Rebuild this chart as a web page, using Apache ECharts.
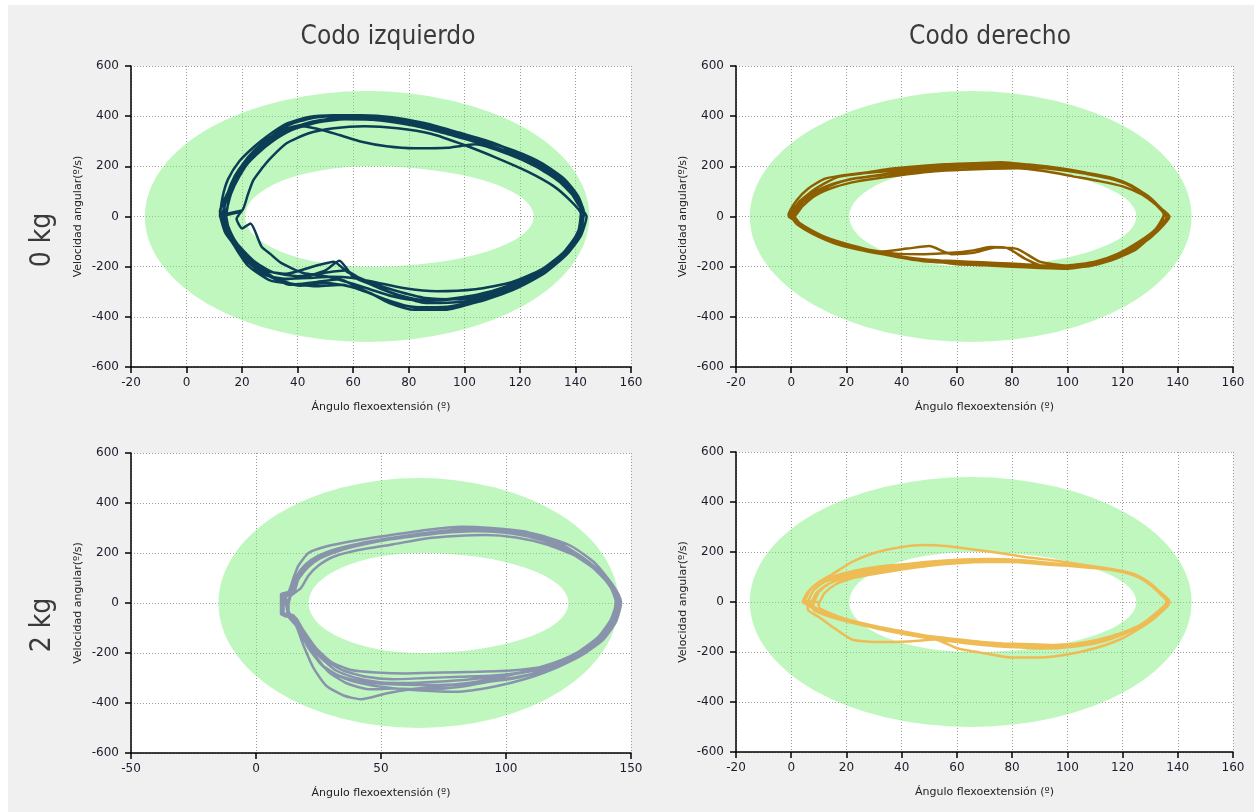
<!DOCTYPE html>
<html><head><meta charset="utf-8">
<script src="https://cdn.jsdelivr.net/npm/echarts@6/dist/echarts.min.js"></script>
<style>html,body{margin:0;padding:0;background:#fff}#c{width:1254px;height:812px}</style>
</head><body><div id="c"></div>
<script>
// ---- Titles / labels ----
const colTitles = ['Codo izquierdo', 'Codo derecho'];
const rowTitles = ['0 kg', '2 kg'];
const xName = 'Ángulo flexoextensión (º)';
const yName = 'Velocidad angular(º/s)';

// ---- Axis ranges ----
const xRangeA = [-20, 160, 20];
const xRangeB = [-50, 150, 50];
const yRange = [-600, 600, 200];

// ---- Reference band (outer ellipse: cx, rx, ry ; inner egg: peak x, left rx, right rx, ry) ----
const bandOuter = [65, 80, 500];
const bandInner = [66, 45, 59, 200];

// ---- Colours ----
const colors = ['#0b3d55', '#8d5f00', '#8a93ac', '#efbb55'];

// ---- Series: 0 kg, left elbow (loops) ----
const L0a = [[13,0],[14,70],[17,140],[21,210],[25,265],[30,315],[37,365],[45,392],[55,402],[65,400],[78,385],[90,350],[104,300],[116,250],[126,200],[134,145],[140,80],[143,10],[141,-70],[136,-150],[128,-225],[118,-290],[105,-340],[92,-365],[80,-358],[70,-325],[62,-285],[55,-250],[46,-262],[37,-272],[29,-225],[22,-160],[17,-90],[13,0]];
const L0b = [[14,10],[16,90],[19,160],[23,225],[28,280],[34,330],[42,365],[52,385],[62,390],[74,382],[86,360],[98,322],[110,280],[122,230],[131,172],[138,105],[142,35],[142,-30],[139,-105],[133,-180],[124,-250],[112,-305],[99,-340],[86,-345],[75,-310],[65,-265],[57,-215],[49,-225],[40,-238],[31,-222],[24,-175],[18,-105],[15,-40],[14,10]];
const L0c = [[12,20],[15,100],[18,170],[22,235],[27,290],[33,335],[40,362],[47,350],[55,325],[63,298],[72,280],[82,272],[94,274],[104,288],[116,248],[126,198],[134,140],[140,72],[143,5],[140,-80],[134,-165],[124,-245],[112,-300],[98,-330],[86,-325],[75,-295],[66,-262],[58,-222],[53,-180],[46,-198],[36,-228],[27,-212],[20,-148],[15,-70],[12,20]];
const L0d = [[13,-5],[14,60],[16,130],[19,190],[24,250],[30,305],[37,350],[46,380],[56,395],[66,392],[78,375],[90,348],[102,310],[114,265],[125,215],[133,158],[139,92],[142,22],[141,-60],[137,-135],[130,-210],[120,-275],[108,-325],[94,-360],[82,-362],[72,-332],[64,-298],[56,-272],[47,-278],[38,-268],[30,-255],[22,-195],[17,-112],[13,-5]];
const L0e = [[20,24],[22,85],[24,144],[27,190],[30,230],[36,292],[44,332],[53,352],[64,360],[76,352],[88,330],[100,285],[112,232],[123,178],[132,122],[138,65],[142,10],[142,-45],[138,-120],[131,-195],[121,-255],[109,-300],[96,-330],[84,-335],[74,-318],[66,-290],[58,-262],[50,-238],[42,-225],[34,-185],[30,-148],[27,-120],[23,-28],[20,-48],[18,-10],[20,24]];
const L0f = [[12,5],[13,80],[15,150],[19,220],[24,275],[29,320],[36,370],[44,397],[53,404],[63,404],[74,396],[86,372],[98,335],[110,295],[121,242],[130,185],[137,118],[141,48],[144,0],[142,-75],[137,-150],[129,-225],[119,-285],[106,-335],[93,-372],[82,-372],[73,-345],[66,-305],[59,-280],[50,-265],[41,-276],[35,-258],[27,-218],[20,-148],[14,-66],[12,5]];
const L0g = [[14,0],[15,55],[17,120],[20,185],[25,245],[31,300],[38,345],[47,375],[57,388],[67,386],[79,368],[91,338],[103,300],[115,262],[126,215],[134,158],[140,92],[143,20],[142,-55],[138,-122],[132,-185],[123,-245],[112,-295],[99,-322],[86,-335],[76,-312],[68,-278],[60,-240],[55,-176],[50,-215],[42,-242],[33,-252],[25,-205],[18,-128],[14,-50],[14,0]];
const L0h = [[13,8],[15,85],[18,160],[22,218],[27,270],[33,322],[40,358],[49,380],[59,392],[70,390],[82,370],[94,340],[106,305],[118,262],[128,212],[136,150],[141,80],[143,15],[141,-65],[136,-140],[128,-210],[117,-262],[104,-290],[90,-298],[78,-285],[68,-262],[60,-245],[52,-240],[44,-245],[36,-248],[28,-232],[21,-170],[16,-95],[13,8]];

// ---- Series: 0 kg, right elbow ----
const R0a = [[0,0],[3,50],[8,95],[15,130],[22,150],[30,162],[40,178],[50,192],[60,200],[70,204],[80,205],[90,196],[100,182],[110,165],[118,145],[125,110],[131,60],[136,0],[132,-60],[125,-130],[116,-175],[106,-200],[95,-198],[84,-192],[72,-190],[62,-188],[52,-180],[44,-172],[34,-150],[24,-128],[14,-95],[6,-50],[0,0]];
const R0b = [[-1,5],[2,65],[6,110],[12,150],[19,165],[27,175],[36,190],[46,200],[56,208],[66,212],[76,216],[86,206],[96,192],[106,172],[115,152],[123,122],[130,75],[135,10],[132,-50],[126,-100],[118,-150],[110,-180],[100,-195],[90,-180],[82,-130],[74,-124],[66,-145],[58,-150],[50,-118],[42,-128],[32,-140],[22,-115],[12,-80],[5,-40],[-1,5]];
const R0c = [[1,0],[4,40],[9,85],[16,118],[24,140],[33,155],[42,168],[52,180],[62,186],[72,190],[82,192],[92,180],[102,160],[112,140],[120,120],[127,88],[132,48],[137,0],[133,-55],[127,-110],[119,-160],[110,-192],[100,-208],[90,-205],[80,-200],[70,-194],[60,-190],[50,-175],[40,-162],[30,-145],[20,-118],[10,-78],[4,-38],[1,0]];
const R0d = [[0,2],[3,60],[9,112],[17,158],[26,172],[36,182],[46,194],[56,202],[66,206],[76,210],[86,207],[96,194],[106,176],[116,155],[123,125],[129,80],[134,25],[136,-5],[131,-70],[124,-125],[116,-165],[107,-190],[97,-200],[87,-198],[77,-196],[67,-192],[57,-185],[48,-178],[40,-165],[31,-145],[21,-120],[11,-85],[4,-45],[0,2]];
const R0e = [[-1,0],[2,45],[7,90],[14,125],[21,148],[29,160],[38,175],[48,188],[58,198],[68,203],[78,205],[88,198],[98,185],[108,168],[117,148],[124,115],[130,70],[135,5],[131,-65],[125,-115],[118,-155],[110,-185],[102,-198],[92,-200],[85,-170],[78,-125],[72,-122],[66,-135],[58,-145],[48,-150],[38,-148],[28,-132],[18,-110],[9,-70],[3,-30],[-1,0]];
const R0f = [[0,0],[4,55],[10,100],[18,138],[27,158],[37,170],[47,183],[57,193],[67,198],[77,200],[87,196],[97,186],[107,170],[117,150],[124,118],[130,72],[135,15],[134,-30],[129,-90],[121,-140],[113,-175],[104,-195],[94,-196],[84,-190],[74,-185],[64,-180],[54,-175],[46,-168],[37,-155],[27,-138],[17,-112],[8,-70],[2,-30],[0,0]];

// ---- Series: 2 kg, left elbow ----
const L2a = [[11,0],[11,30],[14,40],[16,90],[19,140],[23,175],[29,205],[37,228],[47,248],[58,265],[70,280],[82,288],[95,285],[108,268],[120,232],[130,180],[138,110],[143,50],[145,0],[143,-70],[138,-140],[130,-200],[120,-245],[108,-275],[95,-290],[82,-295],[68,-300],[55,-305],[44,-295],[35,-270],[28,-230],[22,-170],[18,-100],[15,-50],[11,-40],[11,0]];
const L2b = [[10,5],[10,35],[13,45],[15,100],[17,150],[21,200],[28,226],[40,250],[54,272],[68,292],[82,305],[94,300],[108,285],[120,245],[130,185],[138,112],[144,40],[146,5],[144,-60],[139,-135],[132,-195],[122,-240],[110,-285],[96,-310],[82,-335],[68,-345],[55,-342],[45,-345],[36,-320],[29,-275],[23,-200],[18,-120],[15,-60],[11,-50],[10,5]];
const L2c = [[12,-5],[12,25],[15,38],[17,95],[21,145],[26,180],[33,208],[42,232],[52,252],[64,268],[76,282],[88,290],[100,288],[112,265],[124,222],[133,165],[140,95],[144,30],[145,-5],[143,-80],[137,-155],[128,-215],[117,-265],[104,-300],[90,-318],[76,-330],[62,-345],[52,-362],[42,-385],[35,-370],[28,-330],[23,-260],[19,-170],[16,-90],[13,-55],[12,-5]];
const L2d = [[11,2],[12,30],[14,50],[17,110],[21,158],[27,192],[34,215],[43,238],[54,258],[66,275],[78,290],[90,298],[102,292],[114,270],[126,228],[135,165],[141,95],[145,35],[146,0],[144,-75],[139,-145],[131,-205],[121,-255],[109,-300],[95,-335],[80,-355],[66,-350],[54,-340],[44,-325],[35,-300],[27,-255],[21,-180],[17,-105],[14,-55],[11,-45],[11,2]];
const L2e = [[12,0],[14,30],[18,60],[21,110],[25,150],[31,185],[41,212],[55,235],[68,258],[80,268],[92,272],[104,262],[116,235],[127,192],[136,132],[142,70],[145,15],[144,-40],[141,-110],[135,-175],[126,-225],[115,-255],[102,-270],[88,-275],[74,-278],[60,-282],[48,-278],[38,-268],[30,-235],[24,-180],[19,-110],[16,-60],[13,-45],[12,0]];
const L2f = [[10,-2],[10,32],[13,42],[15,85],[18,135],[22,172],[28,202],[36,226],[46,247],[58,266],[70,283],[83,296],[96,296],[108,280],[119,245],[129,190],[137,125],[142,60],[144,0],[142,-65],[137,-135],[129,-195],[119,-240],[107,-275],[94,-305],[80,-325],[66,-328],[54,-325],[42,-315],[33,-290],[26,-245],[21,-175],[17,-105],[14,-55],[10,-45],[10,-2]];
const L2g = [[13,0],[14,40],[16,80],[19,130],[24,170],[30,200],[38,225],[48,246],[60,264],[72,278],[84,286],[96,288],[108,276],[119,248],[128,200],[136,140],[141,80],[144,20],[143,-50],[139,-120],[132,-185],[123,-232],[112,-268],[99,-290],[86,-305],[72,-315],[60,-320],[50,-318],[40,-300],[32,-270],[25,-210],[20,-140],[16,-80],[13,-30],[13,0]];

// ---- Series: 2 kg, right elbow ----
const R2a = [[4,0],[6,40],[10,80],[15,112],[22,160],[30,196],[40,220],[48,228],[56,224],[66,210],[76,195],[86,178],[96,165],[106,148],[116,132],[124,112],[130,75],[134,35],[137,0],[134,-40],[129,-80],[122,-120],[114,-150],[104,-168],[94,-172],[84,-168],[74,-165],[64,-158],[54,-145],[44,-125],[34,-105],[24,-82],[15,-55],[8,-25],[4,0]];
const R2b = [[8,0],[10,40],[14,75],[19,100],[26,118],[34,135],[44,148],[54,160],[64,166],[74,168],[84,162],[94,152],[104,142],[114,132],[122,115],[129,82],[133,45],[137,2],[133,-45],[128,-85],[121,-125],[112,-160],[101,-180],[91,-186],[81,-180],[71,-170],[61,-158],[51,-142],[41,-125],[31,-105],[21,-80],[13,-55],[8,-30],[8,0]];
const R2c = [[6,0],[8,45],[12,80],[18,102],[26,122],[36,140],[46,152],[56,162],[66,168],[76,168],[86,160],[96,150],[106,140],[116,128],[124,108],[130,70],[134,30],[136,0],[133,-50],[127,-100],[119,-150],[110,-185],[100,-210],[90,-222],[80,-222],[70,-205],[60,-185],[52,-150],[42,-158],[30,-160],[22,-150],[15,-100],[10,-60],[6,-30],[6,0]];
const R2d = [[10,0],[12,35],[16,70],[22,95],[30,112],[40,130],[50,145],[60,155],[70,160],[80,160],[90,152],[100,145],[110,138],[118,125],[126,100],[131,60],[135,20],[136,0],[132,-45],[126,-95],[118,-135],[109,-160],[99,-170],[89,-172],[79,-168],[69,-160],[59,-148],[49,-135],[39,-118],[29,-95],[20,-70],[14,-45],[10,-20],[10,0]];
const R2e = [[5,5],[7,50],[11,85],[16,105],[23,125],[32,142],[42,152],[52,163],[62,170],[72,172],[82,168],[92,158],[102,146],[112,136],[120,122],[127,92],[132,50],[136,5],[134,-35],[129,-75],[123,-110],[115,-140],[106,-162],[96,-176],[86,-182],[76,-178],[66,-168],[56,-155],[46,-138],[36,-118],[26,-92],[17,-62],[10,-35],[5,5]];
const R2f = [[7,-3],[9,35],[13,70],[19,95],[27,115],[37,133],[47,148],[57,158],[67,162],[77,164],[87,158],[97,148],[107,138],[117,128],[124,110],[130,70],[134,28],[137,-2],[133,-50],[127,-92],[120,-130],[112,-158],[102,-175],[92,-180],[82,-176],[72,-168],[62,-156],[52,-142],[42,-122],[32,-100],[22,-75],[14,-50],[9,-25],[7,-3]];

const panelLoops = [
  [L0a, L0b, L0c, L0d, L0e, L0f, L0g, L0h],
  [R0a, R0b, R0c, R0d, R0e, R0f],
  [L2a, L2b, L2c, L2d, L2e, L2f, L2g],
  [R2a, R2b, R2c, R2d, R2e, R2f]
];

// ---- Layout ----
const grids = [
  {left: 131, top: 66, width: 500, height: 301},
  {left: 736, top: 66, width: 497, height: 301},
  {left: 131, top: 453, width: 500, height: 300},
  {left: 736, top: 452, width: 497, height: 300}
];
const xRanges = [xRangeA, xRangeA, xRangeB, xRangeA];

const smallFont = 'DejaVu Sans';
const titleFont = '"Liberation Sans Narrow", "DejaVu Sans Condensed", Roboto, sans-serif';

function bandItem(params, api) {
  const c = api.coord([bandOuter[0], 0]);
  const orx = api.size([bandOuter[1], 0])[0];
  const ory = api.size([0, bandOuter[2]])[1];
  const p = api.coord([bandInner[0], 0]);
  const lrx = api.size([bandInner[1], 0])[0];
  const rrx = api.size([bandInner[2], 0])[0];
  const iry = api.size([0, bandInner[3]])[1];
  const cx = c[0], cy = c[1], px = p[0];
  const d =
    'M' + (cx - orx) + ' ' + cy +
    ' A' + orx + ' ' + ory + ' 0 1 1 ' + (cx + orx) + ' ' + cy +
    ' A' + orx + ' ' + ory + ' 0 1 1 ' + (cx - orx) + ' ' + cy + ' Z' +
    ' M' + (px - lrx) + ' ' + cy +
    ' A' + lrx + ' ' + iry + ' 0 0 0 ' + px + ' ' + (cy + iry) +
    ' A' + rrx + ' ' + iry + ' 0 0 0 ' + (px + rrx) + ' ' + cy +
    ' A' + rrx + ' ' + iry + ' 0 0 0 ' + px + ' ' + (cy - iry) +
    ' A' + lrx + ' ' + iry + ' 0 0 0 ' + (px - lrx) + ' ' + cy + ' Z';
  return {
    type: 'path',
    shape: {pathData: d, x: cx - orx, y: cy - ory, width: 2 * orx, height: 2 * ory, layout: 'cover'},
    style: {fill: 'rgba(128,240,128,0.5)'},
    silent: true
  };
}

const xAxis = [], yAxis = [], series = [];
grids.forEach((g, i) => {
  const xr = xRanges[i];
  xAxis.push({
    type: 'value', gridIndex: i, min: xr[0], max: xr[1], interval: xr[2],
    name: xName, nameLocation: 'middle', nameGap: 35,
    nameTextStyle: {fontFamily: smallFont, fontSize: 11, color: '#222'},
    axisLine: {show: true, onZero: false, lineStyle: {color: '#000', width: 1.5}},
    axisTick: {show: true, length: 6, lineStyle: {color: '#000', width: 1.5}},
    axisLabel: {fontFamily: smallFont, fontSize: 12, color: '#1c1c2c', margin: 10},
    splitLine: {show: true, lineStyle: {color: '#9a9a9a', type: [1, 2], width: 1}}
  });
  yAxis.push({
    type: 'value', gridIndex: i, min: yRange[0], max: yRange[1], interval: yRange[2],
    name: yName, nameLocation: 'middle', nameGap: 47,
    nameTextStyle: {fontFamily: smallFont, fontSize: 11, color: '#222'},
    axisLine: {show: true, onZero: false, lineStyle: {color: '#000', width: 1.5}},
    axisTick: {show: true, length: 6, lineStyle: {color: '#000', width: 1.5}},
    axisLabel: {fontFamily: smallFont, fontSize: 12, color: '#1c1c2c', margin: 12},
    splitLine: {show: true, lineStyle: {color: '#9a9a9a', type: [1, 2], width: 1}}
  });
  series.push({
    type: 'custom', xAxisIndex: i, yAxisIndex: i, z: 1,
    renderItem: bandItem, data: [[bandOuter[0], 0]], silent: true, clip: true
  });
  series.push({
    type: 'line', xAxisIndex: i, yAxisIndex: i, z: 3,
    data: [].concat(...panelLoops[i]),
    showSymbol: false, smooth: 0.2, silent: true,
    lineStyle: {color: colors[i], width: 2.5}
  });
});

const chart = echarts.init(document.getElementById('c'), null, {renderer: 'canvas'});
chart.setOption({
  animation: false,
  backgroundColor: '#f0f0f0',
  grid: grids.map(g => Object.assign({show: true, backgroundColor: '#fff', borderWidth: 0, containLabel: false}, g)),
  xAxis, yAxis, series,
  graphic: [
    {type: 'rect', z: -10, shape: {x: 0, y: 0, width: 1254, height: 5}, style: {fill: '#fff'}, silent: true},
    {type: 'rect', z: -10, shape: {x: 0, y: 0, width: 8, height: 812}, style: {fill: '#fff'}, silent: true},
    {type: 'text', x: 388, y: 37, style: {text: colTitles[0], font: '26px ' + titleFont, fill: '#3a3a3a', align: 'center', verticalAlign: 'middle'}},
    {type: 'text', x: 990, y: 37, style: {text: colTitles[1], font: '26px ' + titleFont, fill: '#3a3a3a', align: 'center', verticalAlign: 'middle'}},
    {type: 'text', x: 43, y: 240, rotation: Math.PI / 2, style: {text: rowTitles[0], font: '28px ' + titleFont, fill: '#3a3a3a', align: 'center', verticalAlign: 'middle'}},
    {type: 'text', x: 43, y: 625, rotation: Math.PI / 2, style: {text: rowTitles[1], font: '28px ' + titleFont, fill: '#3a3a3a', align: 'center', verticalAlign: 'middle'}}
  ]
});
</script></body></html>
